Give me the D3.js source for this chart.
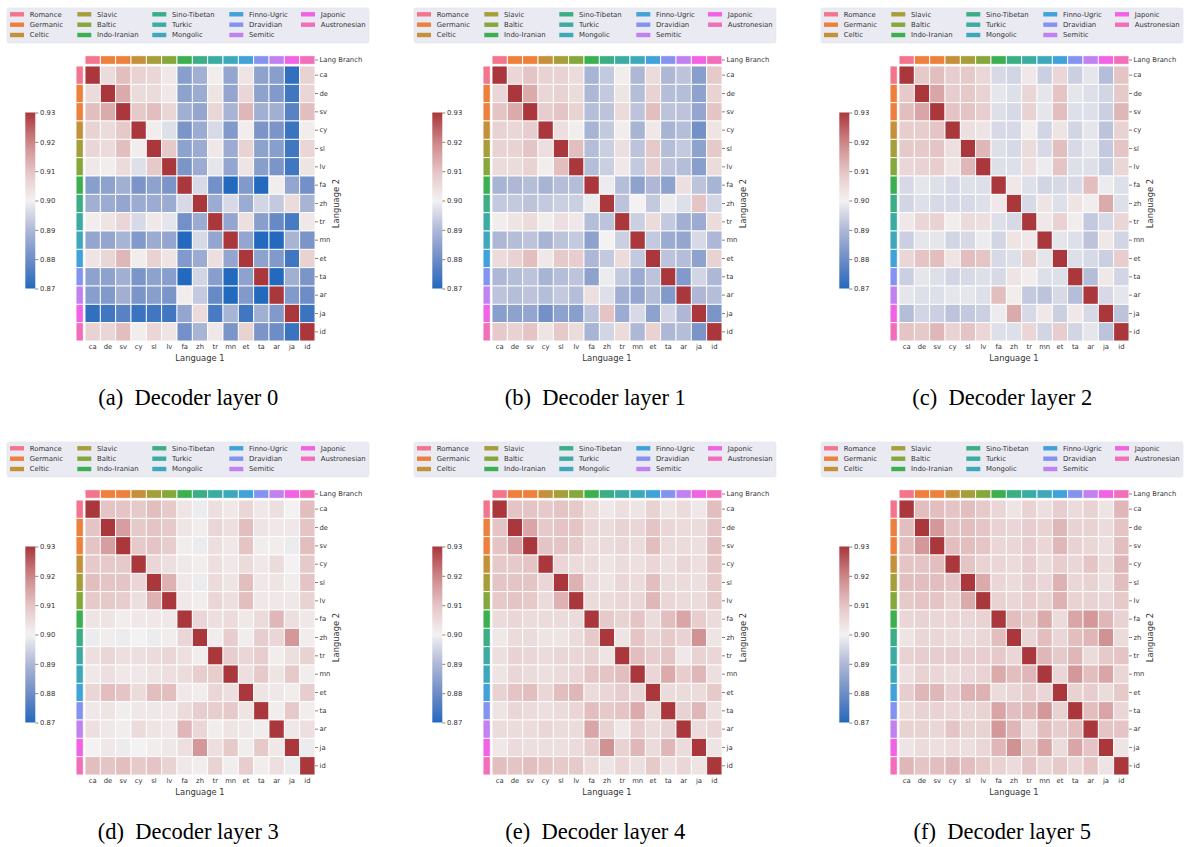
<!DOCTYPE html>
<html>
<head>
<meta charset="utf-8">
<script src="https://cdn.jsdelivr.net/npm/d3@7"></script>
<style>
  html, body { margin: 0; padding: 0; background: #ffffff; }
  svg { display: block; }
</style>
</head>
<body>
<svg id="chart" width="1190" height="847"></svg>
<script>
// ---------------- DATA ----------------
const languages = ["ca","de","sv","cy","sl","lv","fa","zh","tr","mn","et","ta","ar","ja","id"];
const languageBranch = ["Romance","Germanic","Germanic","Celtic","Slavic","Baltic","Indo-Iranian","Sino-Tibetan","Turkic","Mongolic","Finno-Ugric","Dravidian","Semitic","Japonic","Austronesian"];
const branchNames = ["Romance","Germanic","Celtic","Slavic","Baltic","Indo-Iranian","Sino-Tibetan","Turkic","Mongolic","Finno-Ugric","Dravidian","Semitic","Japonic","Austronesian"];
const branchColors = ["#f3758d","#ed803c","#c4903a","#a69e3a","#85a73c","#3cb050","#3cae86","#3caca2","#3ea8ba","#41a2da","#8493f0","#c181f0","#f162e4","#f36eba"];
const panelTitles = ["(a)  Decoder layer 0","(b)  Decoder layer 1","(c)  Decoder layer 2","(d)  Decoder layer 3","(e)  Decoder layer 4","(f)  Decoder layer 5"];
const colorbarTicks = [0.87, 0.88, 0.89, 0.90, 0.91, 0.92, 0.93];

const layer0 = [
 [1,0.905,0.911,0.907,0.906,0.902,0.884,0.888,0.901,0.886,0.903,0.885,0.884,0.872,0.907],
 [0.905,1,0.914,0.905,0.905,0.902,0.885,0.887,0.903,0.886,0.906,0.885,0.883,0.874,0.906],
 [0.911,0.914,1,0.909,0.911,0.906,0.888,0.886,0.906,0.889,0.912,0.888,0.888,0.877,0.911],
 [0.907,0.905,0.909,1,0.901,0.897,0.882,0.887,0.896,0.883,0.901,0.882,0.882,0.873,0.901],
 [0.906,0.905,0.911,0.901,1,0.909,0.885,0.887,0.902,0.887,0.907,0.885,0.884,0.874,0.906],
 [0.902,0.901,0.905,0.897,0.909,1,0.882,0.887,0.898,0.886,0.903,0.884,0.882,0.874,0.903],
 [0.884,0.885,0.888,0.882,0.885,0.882,1,0.896,0.881,0.870,0.883,0.870,0.901,0.886,0.881],
 [0.888,0.887,0.886,0.887,0.887,0.887,0.896,1,0.887,0.896,0.887,0.895,0.893,0.905,0.889],
 [0.901,0.903,0.906,0.896,0.902,0.898,0.881,0.887,1,0.886,0.904,0.884,0.879,0.875,0.902],
 [0.886,0.886,0.889,0.883,0.887,0.886,0.870,0.896,0.886,1,0.886,0.870,0.870,0.889,0.882],
 [0.903,0.906,0.912,0.901,0.907,0.903,0.883,0.887,0.904,0.886,1,0.885,0.883,0.874,0.907],
 [0.885,0.885,0.888,0.882,0.885,0.884,0.870,0.895,0.884,0.870,0.885,1,0.870,0.888,0.882],
 [0.884,0.883,0.888,0.882,0.884,0.882,0.901,0.893,0.879,0.870,0.883,0.870,1,0.883,0.880],
 [0.872,0.874,0.877,0.873,0.874,0.874,0.886,0.905,0.875,0.889,0.874,0.888,0.883,1,0.873],
 [0.907,0.906,0.911,0.901,0.906,0.903,0.881,0.889,0.902,0.882,0.907,0.882,0.880,0.873,1]
];
const layer1 = [
 [1,0.906,0.910,0.907,0.907,0.905,0.889,0.893,0.901,0.890,0.905,0.890,0.892,0.884,0.909],
 [0.906,1,0.914,0.906,0.907,0.905,0.890,0.893,0.903,0.891,0.907,0.891,0.891,0.885,0.907],
 [0.910,0.914,1,0.908,0.910,0.907,0.891,0.892,0.905,0.892,0.911,0.892,0.892,0.886,0.910],
 [0.907,0.906,0.908,1,0.904,0.901,0.889,0.893,0.901,0.889,0.902,0.889,0.891,0.881,0.903],
 [0.907,0.907,0.910,0.904,1,0.911,0.891,0.894,0.904,0.892,0.909,0.891,0.893,0.885,0.909],
 [0.905,0.905,0.907,0.901,0.911,1,0.891,0.894,0.902,0.893,0.908,0.892,0.891,0.884,0.905],
 [0.889,0.890,0.891,0.889,0.891,0.891,1,0.899,0.891,0.885,0.890,0.885,0.904,0.892,0.889],
 [0.893,0.893,0.892,0.893,0.894,0.894,0.899,1,0.892,0.900,0.893,0.899,0.897,0.910,0.895],
 [0.901,0.903,0.905,0.901,0.904,0.902,0.891,0.892,1,0.894,0.905,0.893,0.888,0.887,0.905],
 [0.890,0.891,0.892,0.889,0.892,0.893,0.885,0.900,0.894,1,0.893,0.887,0.886,0.896,0.890],
 [0.905,0.907,0.911,0.902,0.909,0.908,0.890,0.893,0.905,0.893,1,0.892,0.891,0.885,0.907],
 [0.890,0.891,0.892,0.889,0.891,0.892,0.885,0.899,0.893,0.887,0.892,1,0.883,0.895,0.890],
 [0.892,0.891,0.892,0.891,0.893,0.891,0.904,0.897,0.888,0.886,0.891,0.883,1,0.890,0.891],
 [0.884,0.885,0.886,0.881,0.885,0.884,0.892,0.910,0.887,0.896,0.885,0.895,0.890,1,0.882],
 [0.909,0.907,0.910,0.903,0.909,0.905,0.889,0.895,0.905,0.890,0.907,0.890,0.891,0.882,1]
];
const layer2 = [
 [1,0.909,0.911,0.908,0.909,0.906,0.896,0.895,0.902,0.894,0.906,0.894,0.898,0.891,0.910],
 [0.909,1,0.915,0.908,0.909,0.907,0.898,0.897,0.906,0.898,0.910,0.898,0.897,0.895,0.909],
 [0.911,0.915,1,0.910,0.910,0.908,0.897,0.896,0.907,0.898,0.911,0.897,0.897,0.894,0.912],
 [0.908,0.908,0.910,1,0.904,0.903,0.896,0.896,0.901,0.895,0.903,0.895,0.898,0.892,0.907],
 [0.909,0.909,0.910,0.904,1,0.912,0.897,0.896,0.905,0.896,0.911,0.896,0.898,0.893,0.910],
 [0.906,0.907,0.908,0.903,0.912,1,0.897,0.897,0.904,0.899,0.910,0.897,0.897,0.894,0.906],
 [0.896,0.898,0.897,0.896,0.897,0.897,1,0.902,0.897,0.895,0.896,0.896,0.911,0.899,0.897],
 [0.895,0.897,0.896,0.896,0.896,0.897,0.902,1,0.896,0.903,0.897,0.903,0.901,0.914,0.897],
 [0.902,0.906,0.907,0.901,0.905,0.904,0.897,0.896,1,0.902,0.907,0.901,0.893,0.896,0.906],
 [0.894,0.898,0.898,0.895,0.896,0.899,0.895,0.903,0.902,1,0.898,0.897,0.892,0.902,0.895],
 [0.906,0.910,0.911,0.903,0.911,0.910,0.896,0.897,0.907,0.898,1,0.897,0.896,0.894,0.908],
 [0.894,0.898,0.897,0.895,0.896,0.897,0.896,0.903,0.901,0.897,0.897,1,0.891,0.902,0.895],
 [0.898,0.897,0.897,0.898,0.898,0.897,0.911,0.901,0.893,0.892,0.896,0.891,1,0.896,0.898],
 [0.891,0.895,0.894,0.892,0.893,0.894,0.899,0.914,0.896,0.902,0.894,0.902,0.896,1,0.892],
 [0.910,0.909,0.912,0.907,0.910,0.906,0.897,0.897,0.906,0.895,0.908,0.895,0.898,0.892,1]
];
const layer3 = [
 [1,0.910,0.910,0.909,0.911,0.909,0.903,0.899,0.904,0.902,0.906,0.902,0.904,0.900,0.911],
 [0.910,1,0.916,0.909,0.910,0.909,0.903,0.901,0.906,0.904,0.911,0.903,0.902,0.902,0.910],
 [0.910,0.916,1,0.909,0.910,0.908,0.901,0.899,0.904,0.902,0.910,0.901,0.901,0.899,0.911],
 [0.909,0.909,0.909,1,0.906,0.904,0.902,0.901,0.904,0.902,0.905,0.902,0.905,0.900,0.909],
 [0.911,0.910,0.910,0.906,1,0.913,0.902,0.899,0.905,0.903,0.911,0.902,0.903,0.901,0.910],
 [0.909,0.909,0.908,0.904,0.913,1,0.902,0.901,0.906,0.904,0.911,0.902,0.902,0.902,0.907],
 [0.903,0.903,0.901,0.902,0.902,0.902,1,0.906,0.904,0.905,0.902,0.905,0.912,0.904,0.902],
 [0.899,0.901,0.899,0.900,0.899,0.901,0.906,1,0.901,0.908,0.901,0.908,0.906,0.917,0.901],
 [0.904,0.906,0.904,0.904,0.905,0.906,0.904,0.901,1,0.908,0.906,0.908,0.901,0.904,0.907],
 [0.902,0.904,0.902,0.902,0.903,0.904,0.905,0.908,0.908,1,0.904,0.909,0.903,0.909,0.901],
 [0.906,0.911,0.910,0.905,0.911,0.911,0.902,0.901,0.906,0.904,1,0.903,0.902,0.901,0.908],
 [0.902,0.903,0.901,0.902,0.902,0.902,0.905,0.908,0.908,0.909,0.903,1,0.901,0.909,0.901],
 [0.904,0.902,0.901,0.905,0.903,0.902,0.912,0.906,0.901,0.903,0.902,0.901,1,0.902,0.904],
 [0.900,0.902,0.899,0.900,0.901,0.902,0.904,0.917,0.904,0.909,0.901,0.909,0.902,1,0.899],
 [0.911,0.910,0.911,0.909,0.910,0.907,0.902,0.901,0.907,0.901,0.908,0.901,0.904,0.899,1]
];
const layer4 = [
 [1,0.910,0.910,0.909,0.910,0.909,0.905,0.902,0.904,0.903,0.907,0.903,0.905,0.902,0.911],
 [0.910,1,0.915,0.909,0.910,0.910,0.906,0.905,0.907,0.906,0.910,0.906,0.905,0.905,0.910],
 [0.910,0.915,1,0.910,0.910,0.909,0.905,0.905,0.906,0.905,0.911,0.905,0.905,0.904,0.911],
 [0.909,0.909,0.910,1,0.906,0.905,0.905,0.903,0.905,0.904,0.906,0.904,0.906,0.904,0.910],
 [0.910,0.910,0.910,0.906,1,0.913,0.905,0.903,0.906,0.905,0.911,0.905,0.905,0.904,0.909],
 [0.909,0.910,0.909,0.905,0.913,1,0.905,0.905,0.906,0.906,0.912,0.906,0.905,0.905,0.909],
 [0.905,0.906,0.905,0.905,0.905,0.905,1,0.909,0.907,0.910,0.905,0.911,0.915,0.908,0.905],
 [0.902,0.905,0.905,0.903,0.903,0.905,0.909,1,0.903,0.910,0.906,0.909,0.907,0.918,0.903],
 [0.904,0.907,0.906,0.905,0.906,0.906,0.907,0.903,1,0.911,0.908,0.910,0.902,0.907,0.906],
 [0.903,0.906,0.905,0.904,0.905,0.906,0.910,0.910,0.911,1,0.906,0.914,0.908,0.912,0.904],
 [0.907,0.910,0.911,0.906,0.911,0.912,0.905,0.906,0.908,0.906,1,0.905,0.905,0.905,0.909],
 [0.903,0.906,0.905,0.904,0.905,0.906,0.911,0.909,0.910,0.914,0.905,1,0.907,0.912,0.904],
 [0.905,0.905,0.905,0.906,0.905,0.905,0.915,0.907,0.902,0.908,0.905,0.907,1,0.905,0.906],
 [0.902,0.905,0.904,0.904,0.904,0.905,0.908,0.918,0.907,0.912,0.905,0.912,0.905,1,0.903],
 [0.911,0.910,0.911,0.910,0.909,0.909,0.905,0.903,0.906,0.904,0.909,0.904,0.906,0.903,1]
];
const layer5 = [
 [1,0.911,0.911,0.910,0.911,0.909,0.906,0.903,0.907,0.904,0.908,0.905,0.907,0.903,0.912],
 [0.911,1,0.917,0.910,0.911,0.910,0.907,0.906,0.908,0.907,0.912,0.907,0.907,0.905,0.910],
 [0.911,0.917,1,0.911,0.911,0.910,0.906,0.906,0.908,0.906,0.912,0.907,0.906,0.904,0.911],
 [0.910,0.910,0.911,1,0.910,0.907,0.906,0.905,0.908,0.905,0.908,0.906,0.910,0.905,0.912],
 [0.911,0.911,0.911,0.910,1,0.914,0.906,0.905,0.908,0.906,0.913,0.906,0.907,0.904,0.911],
 [0.909,0.910,0.910,0.907,0.914,1,0.907,0.906,0.908,0.907,0.913,0.907,0.907,0.906,0.909],
 [0.906,0.907,0.906,0.906,0.906,0.907,1,0.911,0.909,0.914,0.905,0.915,0.917,0.912,0.907],
 [0.903,0.906,0.906,0.905,0.905,0.906,0.911,1,0.906,0.911,0.906,0.911,0.912,0.918,0.905],
 [0.907,0.908,0.908,0.908,0.908,0.908,0.909,0.906,1,0.912,0.909,0.912,0.905,0.909,0.910],
 [0.904,0.907,0.906,0.905,0.906,0.907,0.914,0.911,0.912,1,0.906,0.917,0.911,0.915,0.906],
 [0.908,0.912,0.912,0.908,0.913,0.913,0.905,0.906,0.909,0.906,1,0.907,0.908,0.905,0.909],
 [0.905,0.907,0.907,0.906,0.906,0.907,0.915,0.911,0.912,0.917,0.907,1,0.911,0.915,0.906],
 [0.907,0.907,0.906,0.910,0.907,0.907,0.917,0.912,0.905,0.911,0.908,0.911,1,0.910,0.910],
 [0.903,0.905,0.904,0.905,0.904,0.906,0.912,0.918,0.909,0.915,0.905,0.915,0.910,1,0.903],
 [0.912,0.910,0.911,0.912,0.911,0.909,0.907,0.905,0.910,0.906,0.909,0.906,0.910,0.903,1]
];
const layers = [layer0, layer1, layer2, layer3, layer4, layer5];

// ---------------- LAYOUT ----------------
const svg = d3.select("#chart");
const W = 1190, H = 847;
svg.append("rect").attr("width", W).attr("height", H).attr("fill", "#ffffff");

const panelLeft = [85, 492, 899];
const panelTop = [66, 500];
const hmW = 230, hmH = 275;
const FONT = "DejaVu Sans, sans-serif";
const TXT = "#333333";

const vmin = 0.87, vmax = 0.93;
// vlag-like diverging colormap
const vlagStops = ["#2369bd", "#6e8cc6", "#aeb8d6", "#f3f1f1", "#e5c4c5", "#cc8587", "#a9373b"];
const vlag = d3.scaleLinear()
  .domain(d3.range(vlagStops.length).map(i => vmin + (vmax - vmin) * i / (vlagStops.length - 1)))
  .range(vlagStops)
  .interpolate(d3.interpolateRgb)
  .clamp(true);

const branchColor = d3.scaleOrdinal().domain(branchNames).range(branchColors);

layers.forEach((mat, p) => {
  const left = panelLeft[p % 3];
  const top = panelTop[Math.floor(p / 3)];
  const g = svg.append("g");

  const x = d3.scaleBand().domain(languages).range([left, left + hmW]);
  const y = d3.scaleBand().domain(languages).range([top, top + hmH]);

  // legend box
  const lgX = left - 78, lgY = top - 58;
  const lg = g.append("g");
  lg.append("rect").attr("x", lgX).attr("y", lgY).attr("width", 362).attr("height", 35)
    .attr("rx", 2).attr("fill", "#eaeaf2").attr("stroke", "#e4e4ec").attr("stroke-width", 0.6);
  const colSw = [3, 70.3, 145.3, 222.3, 294];
  const rowC = [6.3, 16.7, 27];
  branchNames.forEach((b, i) => {
    const c = Math.floor(i / 3), r = i % 3;
    lg.append("rect").attr("x", lgX + colSw[c]).attr("y", lgY + rowC[r] - 2.2)
      .attr("width", 14).attr("height", 4.4).attr("fill", branchColor(b));
    lg.append("text").attr("x", lgX + colSw[c] + 19.7).attr("y", lgY + rowC[r])
      .attr("dy", "0.35em").attr("font-family", FONT).attr("font-size", 6.9)
      .attr("fill", TXT).text(b);
  });

  // heatmap cells
  const cells = [];
  mat.forEach((row, i) => row.forEach((v, j) => cells.push({ r: languages[i], c: languages[j], v })));
  g.append("g").selectAll("rect").data(cells).join("rect")
    .attr("x", d => x(d.c)).attr("y", d => y(d.r))
    .attr("width", x.bandwidth()).attr("height", y.bandwidth())
    .attr("fill", d => vlag(d.v))
    .attr("stroke", "#ffffff").attr("stroke-width", 0.9);

  // column color strip
  g.append("g").selectAll("rect").data(languages).join("rect")
    .attr("x", d => x(d)).attr("y", top - 10.3)
    .attr("width", x.bandwidth()).attr("height", 8.6)
    .attr("fill", (d, i) => branchColor(languageBranch[i]))
    .attr("stroke", "#ffffff").attr("stroke-width", 0.9);
  // row color strip
  g.append("g").selectAll("rect").data(languages).join("rect")
    .attr("x", left - 9).attr("y", d => y(d))
    .attr("width", 7.3).attr("height", y.bandwidth())
    .attr("fill", (d, i) => branchColor(languageBranch[i]))
    .attr("stroke", "#ffffff").attr("stroke-width", 0.9);

  // right axis (row labels)
  const ay = g.append("g").attr("transform", `translate(${left + hmW},0)`)
    .call(d3.axisRight(y).tickSize(3).tickPadding(1.5));
  ay.select(".domain").remove();
  ay.selectAll("line").attr("stroke", TXT).attr("stroke-width", 0.6);
  ay.selectAll("text").attr("font-family", FONT).attr("font-size", 6.8).attr("fill", TXT);
  // "Lang Branch" label
  const lb = g.append("g").attr("transform", `translate(${left + hmW},${top - 6})`);
  lb.append("line").attr("x1", 0).attr("x2", 3).attr("stroke", TXT).attr("stroke-width", 0.6);
  lb.append("text").attr("x", 4.5).attr("dy", "0.32em").attr("font-family", FONT)
    .attr("font-size", 6.8).attr("fill", TXT).text("Lang Branch");

  // bottom axis
  const ax = g.append("g").attr("transform", `translate(0,${top + hmH})`)
    .call(d3.axisBottom(x).tickSize(0).tickPadding(3.5));
  ax.select(".domain").remove();
  ax.selectAll("text").attr("font-family", FONT).attr("font-size", 6.8).attr("fill", TXT);

  g.append("text").attr("x", left + hmW / 2).attr("y", top + hmH + 19.5)
    .attr("text-anchor", "middle").attr("font-family", FONT).attr("font-size", 8.4)
    .attr("fill", TXT).text("Language 1");
  g.append("text").attr("transform", `translate(${left + hmW + 24},${top + hmH / 2}) rotate(-90)`)
    .attr("text-anchor", "middle").attr("font-family", FONT).attr("font-size", 8.4)
    .attr("fill", TXT).text("Language 2");

  // colorbar
  const cbX = left - 59.7, cbY0 = top + 46.5, cbY1 = top + 222.5, cbW = 10;
  const cbScale = d3.scaleLinear().domain([vmin, vmax]).range([cbY1, cbY0]);
  const gradId = "cbgrad" + p;
  const grad = svg.append("defs").append("linearGradient").attr("id", gradId)
    .attr("x1", 0).attr("y1", 1).attr("x2", 0).attr("y2", 0);
  d3.range(0, 1.0001, 0.05).forEach(t => {
    grad.append("stop").attr("offset", t).attr("stop-color", vlag(vmin + (vmax - vmin) * t));
  });
  g.append("rect").attr("x", cbX).attr("y", cbY0).attr("width", cbW).attr("height", cbY1 - cbY0)
    .attr("fill", `url(#${gradId})`);
  const ac = g.append("g").attr("transform", `translate(${cbX + cbW},0)`)
    .call(d3.axisRight(cbScale).tickValues(colorbarTicks).tickFormat(d3.format(".2f")).tickSize(3).tickPadding(1.8));
  ac.select(".domain").remove();
  ac.selectAll("line").attr("stroke", TXT).attr("stroke-width", 0.6);
  ac.selectAll("text").attr("font-family", FONT).attr("font-size", 6.8).attr("fill", TXT);

  // caption
  g.append("text").attr("x", left + 103.3).attr("y", top + 338.5)
    .attr("text-anchor", "middle").attr("font-family", "Liberation Serif, Times New Roman, serif")
    .attr("font-size", 22.5).attr("fill", "#000").attr("xml:space", "preserve")
    .style("white-space", "pre").text(panelTitles[p]);
});
</script>
</body>
</html>
